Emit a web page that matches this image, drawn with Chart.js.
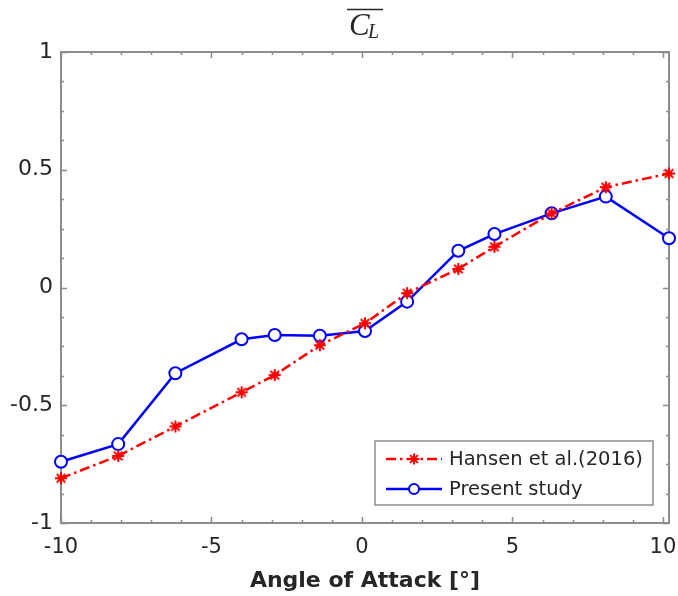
<!DOCTYPE html>
<html>
<head>
<meta charset="utf-8">
<script src="https://cdn.jsdelivr.net/npm/chart.js@4.4.1/dist/chart.umd.min.js"></script>
<style>
  html,body{margin:0;padding:0;background:#fff;}
  #wrap{position:relative;width:678px;height:596px;}
</style>
</head>
<body>
<div id="wrap"><canvas id="c" width="678" height="596"></canvas></div>
<script>
// ---- data ----
const angles  = [-10, -8.1, -6.2, -4.0, -2.9, -1.4, 0.1, 1.5, 3.2, 4.4, 6.3, 8.1, 10.2];
const hansen  = [-0.81, -0.715, -0.59, -0.445, -0.372, -0.245, -0.152, -0.024, 0.079, 0.173, 0.315, 0.426, 0.484];
const present = [-0.74, -0.665, -0.364, -0.22, -0.202, -0.205, -0.185, -0.06, 0.156, 0.227, 0.315, 0.386, 0.209];
const seriesNames = ['Hansen et al.(2016)', 'Present study'];
const xTicks = [-10, -5, 0, 5, 10];
const yTicks = [-1, -0.5, 0, 0.5, 1];
const xMinorTicks = [-10,-9,-8,-7,-6,-5,-4,-3,-2,-1,0,1,2,3,4,5,6,7,8,9,10];
const yMinorTicks = [-1,-0.875,-0.75,-0.625,-0.5,-0.375,-0.25,-0.125,0,0.125,0.25,0.375,0.5,0.625,0.75,0.875,1];
const xTitle = 'Angle of Attack [°]';

const AXIS = '#8c8c8c';
const TXT = '#262626';
const RED = '#ff0000';
const BLUE = '#0000ff';
const RED_DASH = [10, 4, 2.5, 4];

function drawStar(ctx, x, y, r) {
  ctx.beginPath();
  for (let k = 0; k < 4; k++) {
    const ang = k * Math.PI / 4;
    const dx = Math.cos(ang) * r, dy = Math.sin(ang) * r;
    ctx.moveTo(x - dx, y - dy); ctx.lineTo(x + dx, y + dy);
  }
  ctx.stroke();
}
function drawCircle(ctx, x, y, r) {
  ctx.beginPath(); ctx.arc(x, y, r, 0, Math.PI * 2);
  ctx.fillStyle = '#fff'; ctx.fill(); ctx.stroke();
}

const framePlugin = {
  id: 'frame',
  beforeDatasetsDraw(chart) {
    const {ctx, chartArea: a, scales: {x, y}} = chart;
    ctx.save();
    ctx.strokeStyle = AXIS; ctx.lineWidth = 1.5; ctx.setLineDash([]);
    ctx.beginPath();
    xMinorTicks.forEach(v => {
      const p = Math.round(x.getPixelForValue(v)) + 0.5;
      const len = xTicks.includes(v) ? 6 : 3;
      ctx.moveTo(p, a.bottom); ctx.lineTo(p, a.bottom - len);
      ctx.moveTo(p, a.top); ctx.lineTo(p, a.top + len);
    });
    yMinorTicks.forEach(v => {
      const p = Math.round(y.getPixelForValue(v)) + 0.5;
      const len = yTicks.includes(v) ? 6 : 3;
      ctx.moveTo(a.left, p); ctx.lineTo(a.left + len, p);
      ctx.moveTo(a.right, p); ctx.lineTo(a.right - len, p);
    });
    ctx.stroke();
    ctx.lineWidth = 2;
    ctx.strokeRect(a.left, a.top, a.right - a.left, a.bottom - a.top);
    ctx.restore();
  },
  afterDraw(chart) {
    const {ctx, chartArea: a} = chart;
    ctx.save();
    // title: overline C_L
    const cx = (a.left + a.right) / 2;
    ctx.fillStyle = TXT;
    ctx.textBaseline = 'alphabetic';
    ctx.font = 'italic 31px "Liberation Serif"';
    ctx.fillText('C', cx - 16, 35);
    ctx.font = 'italic 20px "Liberation Serif"';
    ctx.fillText('L', cx + 3, 38);
    ctx.strokeStyle = TXT; ctx.lineWidth = 1.5;
    ctx.beginPath(); ctx.moveTo(cx - 18, 9.5); ctx.lineTo(cx + 18, 9.5); ctx.stroke();

    // legend
    const w = 278, h = 64;
    const lx = a.right - 16 - w, ly = a.bottom - 18 - h;
    ctx.fillStyle = '#fff';
    ctx.fillRect(lx, ly, w, h);
    ctx.strokeStyle = AXIS; ctx.lineWidth = 1.5;
    ctx.strokeRect(lx, ly, w, h);
    const rows = [ly + 18, ly + 48];
    chart.data.datasets.forEach((ds, i) => {
      const yy = rows[i];
      ctx.strokeStyle = ds.borderColor; ctx.lineWidth = ds.borderWidth;
      ctx.setLineDash(ds.borderDash || []);
      ctx.beginPath(); ctx.moveTo(lx + 11, yy); ctx.lineTo(lx + 67, yy); ctx.stroke();
      ctx.setLineDash([]);
      ctx.lineWidth = ds.pointBorderWidth;
      if (i === 0) drawStar(ctx, lx + 39, yy, 5.5); else drawCircle(ctx, lx + 39, yy, 5);
      ctx.fillStyle = TXT;
      ctx.font = '19.5px "DejaVu Sans"';
      ctx.textBaseline = 'middle';
      ctx.fillText(ds.label, lx + 74, yy + 1);
    });
    ctx.restore();
  }
};

const starStyle = (() => {
  const c = document.createElement('canvas');
  c.width = 16; c.height = 16;
  const g = c.getContext('2d');
  g.strokeStyle = RED; g.lineWidth = 2; g.lineCap = 'butt';
  drawStar(g, 8, 8, 6);
  return c;
})();

new Chart(document.getElementById('c'), {
  type: 'line',
  data: {
    datasets: [
      {
        label: seriesNames[0],
        data: angles.map((a, i) => ({x: a, y: hansen[i]})),
        borderColor: RED, backgroundColor: RED,
        borderWidth: 2.5, borderDash: RED_DASH,
        pointStyle: starStyle, pointRadius: 6, pointBorderWidth: 2,
        pointBorderColor: RED, pointBackgroundColor: RED,
        tension: 0, clip: false
      },
      {
        label: seriesNames[1],
        data: angles.map((a, i) => ({x: a, y: present[i]})),
        borderColor: BLUE, backgroundColor: '#fff',
        borderWidth: 2.5,
        pointStyle: 'circle', pointRadius: 6, pointBorderWidth: 2,
        pointBorderColor: BLUE, pointBackgroundColor: '#fff',
        tension: 0, clip: false
      }
    ]
  },
  options: {
    responsive: false,
    animation: false,
    events: [],
    layout: {padding: {top: 52, right: 9, left: 0, bottom: 0}},
    plugins: {legend: {display: false}, title: {display: false}, tooltip: {enabled: false}},
    scales: {
      x: {
        type: 'linear', min: -10, max: 10.2,
        afterFit: s => { s.height = 73; s.paddingLeft = 0; s.paddingRight = 0; },
        afterBuildTicks: s => { s.ticks = xTicks.map(v => ({value: v})); },
        grid: {display: false, drawTicks: false},
        border: {display: false},
        ticks: {color: TXT, font: {family: 'DejaVu Sans', size: 21}, padding: 12, maxRotation: 0,
                callback: v => String(v)},
        title: {display: true, text: xTitle, color: TXT,
                font: {family: 'DejaVu Sans', size: 22, weight: 'bold'}, padding: {top: 0, bottom: 2}}
      },
      y: {
        type: 'linear', min: -1, max: 1,
        afterFit: s => { s.width = 61; s.paddingTop = 0; s.paddingBottom = 0; },
        afterBuildTicks: s => { s.ticks = yTicks.map(v => ({value: v})); },
        grid: {display: false, drawTicks: false},
        border: {display: false},
        ticks: {color: TXT, font: {family: 'DejaVu Sans', size: 22}, padding: 8,
                callback: v => String(v)}
      }
    }
  },
  plugins: [framePlugin]
});
</script>
</body>
</html>
